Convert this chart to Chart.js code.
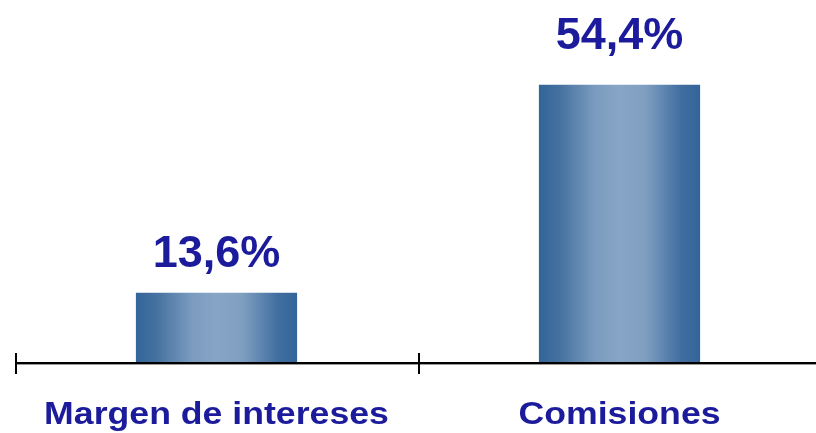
<!DOCTYPE html>
<html>
<head>
<meta charset="utf-8">
<script src="https://cdn.jsdelivr.net/npm/chart.js@4/dist/chart.umd.min.js"></script>
<style>
  html, body { margin: 0; padding: 0; background: #fff; overflow: hidden; }
  #wrap { width: 830px; height: 433px; }
</style>
</head>
<body>
<div id="wrap"><canvas id="growthChart"></canvas></div>
<script>
// === Data ===
const categories = ['Margen de intereses', 'Comisiones'];
const growthValues = [13.6, 54.4];
const valueLabels = ['13,6%', '54,4%'];

const textBlue = '#1b1b9b';

// horizontal "cylinder" shading on each bar
function barGradient(context) {
  const chart = context.chart;
  if (!chart.chartArea) return '#35669a';
  const xs = chart.scales.x;
  const cx = xs.getPixelForValue(context.dataIndex);
  const half = xs.width / categories.length * 0.4 / 2;
  const g = chart.ctx.createLinearGradient(cx - half, 0, cx + half, 0);
  g.addColorStop(0, '#33659a');
  g.addColorStop(0.12, '#43709f');
  g.addColorStop(0.35, '#7b9cbf');
  g.addColorStop(0.5, '#87a5c6');
  g.addColorStop(0.66, '#7f9fc1');
  g.addColorStop(0.88, '#416ea0');
  g.addColorStop(1, '#33649a');
  return g;
}

// axis line, tick marks, value labels and the wide category labels
const decorations = {
  id: 'decorations',
  afterDatasetsDraw(chart, args, opts) {
    const { ctx, chartArea } = chart;
    const xs = chart.scales.x;
    const ys = chart.scales.y;
    const step = xs.width / categories.length;
    const base = chartArea.bottom;

    ctx.save();
    // axis
    ctx.fillStyle = '#000';
    ctx.fillRect(chartArea.left, base, chartArea.right - chartArea.left, 2);
    ctx.fillStyle = '#9a9a9a';
    ctx.fillRect(chartArea.left, base + 2, chartArea.right - chartArea.left, 1);
    ctx.fillStyle = '#000';
    for (let i = 0; i <= categories.length; i++) {
      const x = Math.round(chartArea.left + i * step);
      ctx.fillRect(x, base - 9, 2, 21);
    }

    // values above bars
    ctx.fillStyle = textBlue;
    ctx.textAlign = 'center';
    ctx.textBaseline = 'alphabetic';
    ctx.font = 'bold 45px "Liberation Sans", Arial, sans-serif';
    growthValues.forEach((v, i) => {
      const x = xs.getPixelForValue(i);
      const y = ys.getPixelForValue(v) - opts.gaps[i];
      ctx.fillText(valueLabels[i], x, y);
    });

    // category names, slightly stretched sideways
    ctx.font = 'bold 31px "Liberation Sans", Arial, sans-serif';
    categories.forEach((c, i) => {
      const x = xs.getPixelForValue(i);
      ctx.save();
      ctx.translate(x, base + 62);
      ctx.scale(1.15, 1);
      ctx.fillText(c, 0, 0);
      ctx.restore();
    });
    ctx.restore();
  }
};

new Chart(document.getElementById('growthChart'), {
  type: 'bar',
  data: {
    labels: categories,
    datasets: [{
      data: growthValues,
      backgroundColor: barGradient,
      borderWidth: 0,
      categoryPercentage: 1,
      barPercentage: 0.4
    }]
  },
  options: {
    responsive: true,
    maintainAspectRatio: false,
    animation: false,
    layout: { padding: { left: 15, right: 9, top: 0, bottom: 71 } },
    plugins: {
      legend: { display: false },
      tooltip: { enabled: false },
      decorations: { gaps: [26, 36] }
    },
    scales: {
      x: { display: false },
      y: { display: false, min: 0, max: 71 }
    }
  },
  plugins: [decorations]
});
</script>
</body>
</html>
